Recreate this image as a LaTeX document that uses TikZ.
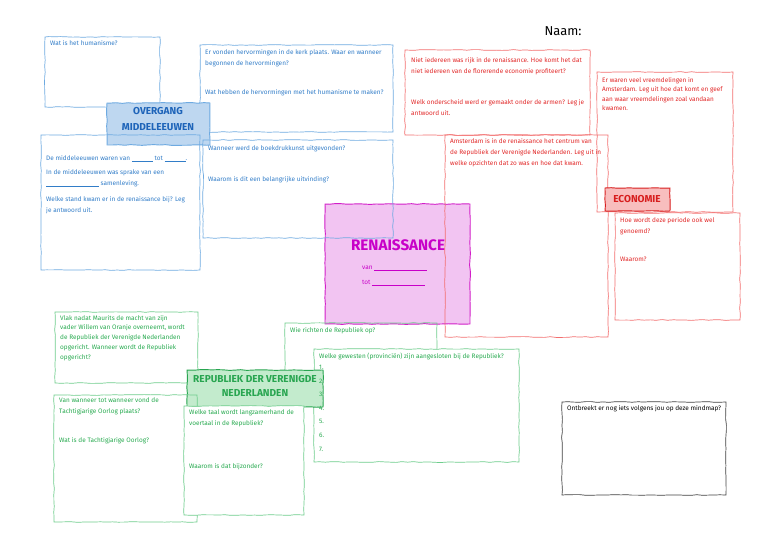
\documentclass[tikz,border=0pt]{standalone}
\usepackage{fontspec}
\setmainfont{Fira Sans}
\usetikzlibrary{fit,decorations.pathmorphing}

\definecolor{blauwlijn}{RGB}{110,170,225}
\definecolor{blauwtekst}{RGB}{50,125,200}
\definecolor{blauwvul}{RGB}{190,215,240}
\definecolor{blauwkop}{RGB}{30,100,185}
\definecolor{roodlijn}{RGB}{242,110,110}
\definecolor{roodtekst}{RGB}{225,40,40}
\definecolor{roodvul}{RGB}{248,190,190}
\definecolor{roodkop}{RGB}{215,30,30}
\definecolor{paarslijn}{RGB}{210,30,200}
\definecolor{paarsvul}{RGB}{242,196,242}
\definecolor{paarstekst}{RGB}{200,0,200}
\definecolor{groenlijn}{RGB}{110,205,140}
\definecolor{groentekst}{RGB}{40,170,80}
\definecolor{groenvul}{RGB}{195,235,205}
\definecolor{groenkop}{RGB}{40,165,80}

\tikzset{
  schets/.style={decorate,decoration={random steps,segment length=5pt,amplitude=0.35pt}},
  vak/.style={schets,draw=#1,line width=0.6pt,inner sep=0pt},
  witvak/.style={vak=#1,fill=white},
  kopvak/.style={schets,draw=#1,line width=0.8pt,inner sep=0pt},
  vraag/.style={anchor=north west,inner sep=0pt,align=left,text=#1,font=\fontsize{5.5}{9.4}\selectfont},
  koptekst/.style={align=center,inner sep=0pt,text=#1,font=\bfseries\fontsize{8.6}{13}\selectfont},
}
\newcommand{\streep}[1]{\rule[-0.6pt]{#1}{0.3pt}}

\begin{document}
\begin{tikzpicture}[x=0.03cm,y=-0.03cm]
    \useasboundingbox (0,0) rectangle (768,543);

    %naam
    \node[font=\fontsize{11}{13}\selectfont] (naam) at (563,31) {Naam:};

    %renaissance
    \node[kopvak=paarslijn,fill=paarsvul,fit={(325,204)(470,324)}] (renaissance) {};
    \node[text=paarstekst,font=\bfseries\fontsize{13}{15}\selectfont] (renaissancekop) at (398,245) {RENAISSANCE};
    \node[vraag=paarstekst,anchor=west] (van) at (362,268) {van \streep{45pt}};
    \node[vraag=paarstekst,anchor=west] (tot) at (362,283) {tot \streep{45pt}};

    %blauw
    \node[vak=blauwlijn,fit={(45,37)(160,107)}] (humanisme) {};
    \node[vraag=blauwtekst] (humanisme1) at (50,40) {Wat is het humanisme?};

    \node[vak=blauwlijn,fit={(200,45)(393,132)}] (hervorming) {};
    \node[vraag=blauwtekst] (hervorming1) at (205,49) {Er vonden hervormingen in de kerk plaats. Waar en wanneer\\begonnen de hervormingen?};
    \node[vraag=blauwtekst] (hervorming2) at (205,89) {Wat hebben de hervormingen met het humanisme te maken?};

    \node[kopvak=blauwlijn,fill=blauwvul,fit={(107,103)(210,145)}] (overgang) {};
    \node[koptekst=blauwkop,font=\bfseries\fontsize{8.6}{13.6}\selectfont] (overgangkop) at (158,119) {OVERGANG\\MIDDELEEUWEN};

    \node[vak=blauwlijn,fit={(41,135)(200,270)}] (middeleeuwen) {};
    \node[vraag=blauwtekst] (middeleeuwen1) at (46,155) {De middeleeuwen waren van \streep{18pt} tot \streep{18pt}.};
    \node[vraag=blauwtekst] (middeleeuwen2) at (46,169) {In de middeleeuwen was sprake van een\\\streep{45pt} samenleving.};
    \node[vraag=blauwtekst] (middeleeuwen3) at (46,196) {Welke stand kwam er in de renaissance bij? Leg\\je antwoord uit.};

    \node[vak=blauwlijn,fit={(203,140)(393,238)}] (boekdruk) {};
    \node[vraag=blauwtekst] (boekdruk1) at (208,145) {Wanneer werd de boekdrukkunst uitgevonden?};
    \node[vraag=blauwtekst] (boekdruk2) at (208,176) {Waarom is dit een belangrijke uitvinding?};

    %rood
    \node[vak=roodlijn,fit={(405,50)(590,135)}] (armen) {};
    \node[vraag=roodtekst] (armen1) at (411,57) {Niet iedereen was rijk in de renaissance. Hoe komt het dat\\niet iedereen van de florerende economie profiteert?};
    \node[vraag=roodtekst] (armen2) at (411,99) {Welk onderscheid werd er gemaakt onder de armen? Leg je\\antwoord uit.};

    \node[vak=roodlijn,fit={(597,72)(733,212)}] (vreemdelingen) {};
    \node[vraag=roodtekst,font=\fontsize{5.5}{8.1}\selectfont] (vreemdelingen1) at (602,77) {Er waren veel vreemdelingen in\\Amsterdam. Leg uit hoe dat komt en geef\\aan waar vreemdelingen zoal vandaan\\kwamen.};

    \node[vak=roodlijn,fit={(445,135)(608,337)}] (amsterdam) {};
    \node[vraag=roodtekst] (amsterdam1) at (450,138) {Amsterdam is in de renaissance het centrum van\\de Republiek der Verenigde Nederlanden. Leg uit in\\welke opzichten dat zo was en hoe dat kwam.};

    \node[kopvak=roodkop,fill=roodvul,fit={(605,188)(670,211)}] (economie) {};
    \node[koptekst=roodkop] (economiekop) at (637,199) {ECONOMIE};

    \node[vak=roodlijn,fit={(615,213)(740,320)}] (periode) {};
    \node[vraag=roodtekst] (periode1) at (620,217) {Hoe wordt deze periode ook wel\\genoemd?};
    \node[vraag=roodtekst] (periode2) at (620,257) {Waarom?};

    %groen
    \node[vak=groenlijn,fit={(55,312)(198,383)}] (maurits) {};
    \node[vraag=groentekst,font=\fontsize{5.5}{8.3}\selectfont] (maurits1) at (60,315) {Vlak nadat Maurits de macht van zijn\\vader Willem van Oranje overneemt, wordt\\de Republiek der Verenigde Nederlanden\\opgericht. Wanneer wordt de Republiek\\opgericht?};

    \node[vak=groenlijn,fit={(285,323)(437,395)}] (richten) {};
    \node[vraag=groentekst] (richten1) at (290,327) {Wie richten de Republiek op?};

    \node[witvak=groenlijn,fit={(314,349)(519,462)}] (gewesten) {};
    \node[vraag=groentekst] (gewesten1) at (319,353) {Welke gewesten (provinciën) zijn aangesloten bij de Republiek?};

    \node[kopvak=groenkop,fill=groenvul,fit={(187,370)(323,407)}] (republiek) {};
    \node[koptekst=groenkop,font=\bfseries\fontsize{8.6}{12}\selectfont] (republiekkop) at (255,386) {REPUBLIEK DER VERENIGDE\\NEDERLANDEN};
    \node[vraag=groentekst,font=\fontsize{5.5}{11.6}\selectfont] (gewesten2) at (319,365) {1.\\2.\\3.\\4.\\5.\\6.\\7.};

    \node[vak=groenlijn,fit={(54,395)(197,522)}] (tachtig) {};
    \node[vraag=groentekst] (tachtig1) at (59,397) {Van wanneer tot wanneer vond de\\Tachtigjarige Oorlog plaats?};
    \node[vraag=groentekst] (tachtig2) at (59,437) {Wat is de Tachtigjarige Oorlog?};

    \node[witvak=groenlijn,fit={(184,406)(304,515)}] (taal) {};
    \node[vraag=groentekst] (taal1) at (189,409) {Welke taal wordt langzamerhand de\\voertaal in de Republiek?};
    \node[vraag=groentekst] (taal2) at (189,463) {Waarom is dat bijzonder?};

    %zwart
    \node[vak=black!75,fit={(562,402)(726,495)}] (mindmap) {};
    \node[vraag=black] (mindmap1) at (567,405) {Ontbreekt er nog iets volgens jou op deze mindmap?};
\end{tikzpicture}
\end{document}
